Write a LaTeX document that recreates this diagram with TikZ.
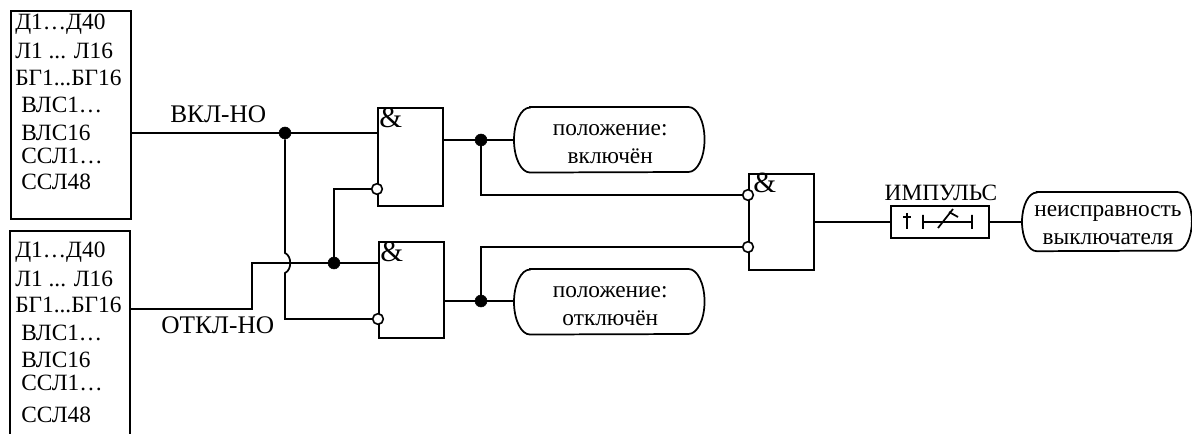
\documentclass[tikz,border=0pt]{standalone}
\usepackage{fontspec}
\setmainfont{Liberation Serif}
\usetikzlibrary{calc}
\tikzset{
  wire/.style={line width=1.3pt},
  box/.style={draw,line width=1.3pt,rectangle,inner sep=0,anchor=north west},
  term/.style={rectangle,inner sep=0,anchor=north west},
  termtxt/.style={inner sep=0,align=center,font=\fs,text depth=-4.5pt},
  lbl/.style={anchor=base west,inner sep=0,font=\fs},
  biglbl/.style={anchor=base west,inner sep=0,font=\fontsize{19pt}{22pt}\selectfont},
  amp/.style={anchor=base west,inner sep=0,font=\fontsize{22pt}{22pt}\selectfont},
  dot/.style={circle,fill=black,draw=black,inner sep=0,minimum size=9pt},
  neg/.style={circle,fill=white,draw=black,line width=1.2pt,inner sep=0,minimum size=8pt}
}
\newcommand{\fs}{\fontsize{17.5pt}{22pt}\selectfont}
\newcommand{\termframe}[3]{% name, x radius, half height
  \draw[wire] ($(#1.north west)+(#2,0pt)$) -- ($(#1.north east)+(-#2,0pt)$)
    arc[start angle=90,end angle=-90,x radius=#2,y radius=#3]
    -- ($(#1.south west)+(#2,0pt)$)
    arc[start angle=270,end angle=90,x radius=#2,y radius=#3] -- cycle;}
\begin{document}
\begin{tikzpicture}[x=0.75pt,y=-0.75pt]
\useasboundingbox (0,0) rectangle (1192,434);
% source boxes
\node[box,minimum width=90pt,minimum height=155.6pt] (src1) at (10,10.5) {};
\draw[wire] (10,434) -- (10,231) -- (130,231) -- (130,434);
\coordinate (src2) at (130,309);
\node[lbl] (s1) at (15,30) {Д1…Д40};
\node[lbl] (s2) at (15,59) {Л1 ... Л16};
\node[lbl] (s3) at (15,86) {БГ1...БГ16};
\node[lbl] (s4) at (21,113) {ВЛС1…};
\node[lbl] (s5) at (21,141) {ВЛС16};
\node[lbl] (s6) at (21,164) {ССЛ1…};
\node[lbl] (s7) at (21,190) {ССЛ48};
\node[lbl] (t1) at (15,258) {Д1…Д40};
\node[lbl] (t2) at (15,287) {Л1 ... Л16};
\node[lbl] (t3) at (15,313) {БГ1...БГ16};
\node[lbl] (t4) at (21,341) {ВЛС1…};
\node[lbl] (t5) at (21,368) {ВЛС16};
\node[lbl] (t6) at (21,391) {ССЛ1…};
\node[lbl] (t7) at (21,422) {ССЛ48};
\node[biglbl] (von) at (170,123) {ВКЛ-НО};
\node[biglbl] (voff) at (161,334) {ОТКЛ-НО};
% gates
\node[box,minimum width=48.75pt,minimum height=73.5pt] (g1) at (377,107) {};
\node[box,minimum width=48.75pt,minimum height=72pt] (g2) at (378,241) {};
\node[box,minimum width=48.75pt,minimum height=72pt] (g3) at (748,173) {};
\node[amp] (a1) at (379,128) {\&};
\node[amp] (a2) at (380,262) {\&};
\node[amp] (a3) at (753,193) {\&};
% outputs
\node[term,minimum width=142.5pt,minimum height=48.75pt] (p1) at (514,107) {};
\node[term,minimum width=142.5pt,minimum height=48.75pt] (p2) at (514,269) {};
\node[term,minimum width=127pt,minimum height=44pt] (fail) at (1022,192) {};
\termframe{p1}{12pt}{24.375pt}
\termframe{p2}{12pt}{24.375pt}
\termframe{fail}{11pt}{22pt}
\node[termtxt] (p1t) at ($(p1)+(1,4)$) {положение:\\[-1pt]включён};
\node[termtxt] (p2t) at ($(p2)+(1,4)$) {положение:\\[-1pt]отключён};
\node[termtxt] (failt) at ($(fail)+(1,3)$) {неисправность\\[-1pt]выключателя};
\node[box,minimum width=73.5pt,minimum height=24pt] (imp) at (890,205) {};
\node[anchor=base,inner sep=0,font=\fs] (imptxt) at (941,201) {ИМПУЛЬС};
% junctions
\coordinate (i1a) at (377,133);
\coordinate (i2a) at (378,263);
\node[neg] (n1) at (377,189) {};
\node[neg] (n2) at (378,319) {};
\node[neg] (n3) at (748,195) {};
\node[neg] (n4) at (748,247) {};
\node[dot] (d1) at (285,133) {};
\node[dot] (d2) at (334,263) {};
\node[dot] (d3) at (481,140) {};
\node[dot] (d4) at (481,301) {};
% wires
\draw[wire] (130,133) -- (d1) -- (i1a);
\draw[wire] (d1) -- (285,253) .. controls (292,256) and (292,270) .. (285,273) -- (285,319) -- (n2);
\draw[wire] (src2) -- (252,309) -- (252,263) -- (d2) -- (i2a);
\draw[wire] (d2) -- (334,189) -- (n1);
\draw[wire] (442,140) -- (d3) -- (p1.west |- d3);
\draw[wire] (443,301) -- (d4) -- (p2.west |- d4);
\draw[wire] (d3) |- (n3);
\draw[wire] (d4) |- (n4);
\draw[wire] (g3.east |- imp.west) -- (imp.west);
\draw[wire] (imp.east) -- (imp.east -| fail.west);
% impulse symbol
\draw[wire] (907,213) -- (907,229) (903,217) -- (911,217);
\draw[wire] (923,215) -- (923,229) (923,222) -- (972,222) (972,215) -- (972,229)
  (938,228) -- (953,209) (949,212) -- (958,217);
\end{tikzpicture}
\end{document}
